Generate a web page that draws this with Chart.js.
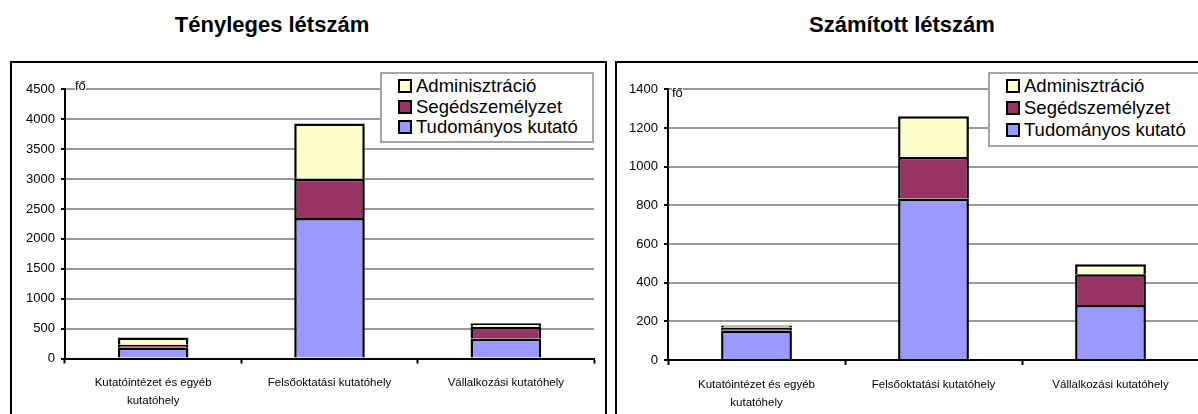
<!DOCTYPE html>
<html>
<head>
<meta charset="utf-8">
<script src="https://cdn.jsdelivr.net/npm/chart.js@4.4.1/dist/chart.umd.min.js"></script>
<style>
  html, body { margin: 0; padding: 0; background: #fff; }
  body {
    width: 1198px; height: 414px; overflow: hidden; position: relative;
    font-family: 'Liberation Sans', Arial, sans-serif; color: #000;
  }
  .title {
    position: absolute; top: 14px; font-weight: bold; font-size: 22px;
    line-height: 22px; white-space: nowrap; transform: translateX(-50%);
  }
  .frame { position: absolute; top: 61px; width: 593px; height: 400px; border: 2px solid #000; }
  .frame canvas { position: absolute; left: 0; top: 0; }
  .legend {
    position: absolute; top: 9px; background: #fff; border: 2px solid #a6a6a6;
    box-sizing: border-box;
  }
  .legend .row { position: absolute; white-space: nowrap; font-size: 18.5px; line-height: 20px; }
  .legend .box {
    position: absolute; width: 14px; height: 14px; box-sizing: border-box;
    border: 2px solid #000; top: 3px;
  }
</style>
</head>
<body>
  <div class="title" style="left:272px">Tényleges létszám</div>
  <div class="title" style="left:902px">Számított létszám</div>

  <div class="frame" style="left:10px">
    <canvas id="actualChart" width="593" height="351"></canvas>
    <div class="legend" id="actualLegend" style="left:368px; width:214px; height:71px"></div>
  </div>
  <div class="frame" style="left:615px">
    <canvas id="computedChart" width="593" height="351"></canvas>
    <div class="legend" id="computedLegend" style="left:371px; width:212px; height:75px"></div>
  </div>

<script>
const categories = [['Kutatóintézet és egyéb', 'kutatóhely'], 'Felsőoktatási kutatóhely', 'Vállalkozási kutatóhely'];
const seriesNames = ['Tudományos kutató', 'Segédszemélyzet', 'Adminisztráció'];
const seriesColors = ['#9999ff', '#993366', '#ffffcc'];
const unitText = 'fő';

// Tényleges létszám
const actualResearchers = [180, 2350, 335];
const actualSupport = [50, 655, 195];
const actualAdmin = [120, 925, 60];

// Számított létszám
const computedResearchers = [153, 835, 285];
const computedSupport = [15, 215, 158];
const computedAdmin = [10, 210, 52];

const fontFamily = "'Liberation Sans', Arial, sans-serif";

// small "fő" label at the top of the value axis
const unitLabelPlugin = {
  id: 'unitLabel',
  afterDraw(chart, args, opts) {
    const { ctx, chartArea } = chart;
    ctx.save();
    ctx.font = '13px ' + fontFamily;
    const w = ctx.measureText(opts.text).width;
    const x = chartArea.left + opts.dx;
    const y = chartArea.top + opts.dy;
    ctx.fillStyle = '#fff';
    ctx.fillRect(x, y - 10, w, 11);
    ctx.fillStyle = '#000';
    ctx.textBaseline = 'alphabetic';
    ctx.fillText(opts.text, x, y);
    ctx.restore();
  }
};

const makeChart = (canvasId, values, yMax, yStep, geom) => {
  return new Chart(document.getElementById(canvasId), {
    type: 'bar',
    data: {
      labels: categories,
      datasets: seriesNames.map((name, i) => ({
        label: name,
        data: values[i],
        backgroundColor: seriesColors[i],
        borderColor: '#000',
        borderWidth: 2.5,
        barPercentage: 0.4,
        categoryPercentage: 1,
      })),
    },
    options: {
      responsive: false,
      animation: false,
      layout: { padding: { top: geom.top, right: geom.right, left: 0, bottom: 0 } },
      plugins: {
        legend: { display: false },
        tooltip: { enabled: false },
        unitLabel: { text: unitText, dx: geom.unitDx, dy: geom.unitDy },
      },
      scales: {
        x: {
          stacked: true,
          grid: {
            drawOnChartArea: false, drawTicks: true, tickLength: 5,
            tickColor: '#000', tickWidth: 2, offset: true,
          },
          border: { color: '#000', width: 2, z: 1 },
          ticks: {
            color: '#000', padding: 10.5, maxRotation: 0, autoSkip: false,
            font: { family: fontFamily, size: 11.5, lineHeight: 18 / 11.5 },
          },
          afterFit(scale) { scale.height = geom.xHeight; },
        },
        y: {
          stacked: true,
          min: 0,
          max: yMax,
          grid: { color: '#999', lineWidth: 2, tickLength: 4, tickColor: '#000', tickWidth: 2 },
          border: { color: '#000', width: 2 },
          ticks: {
            stepSize: yStep, color: '#000', padding: 6,
            font: { family: fontFamily, size: 13 },
            callback: (value) => String(value),
          },
          afterFit(scale) { scale.width = geom.yWidth; },
        },
      },
    },
    plugins: [unitLabelPlugin],
  });
};

// HTML legend built from the chart's datasets (top item = last series)
const buildLegend = (el, chart, rowGap) => {
  chart.data.datasets.slice().reverse().forEach((ds, i) => {
    const row = document.createElement('div');
    row.className = 'row';
    row.style.left = '16px';
    row.style.top = (2 + i * rowGap) + 'px';
    row.innerHTML = `<span class="box" style="background:${ds.backgroundColor}"></span>` +
      `<span style="padding-left:18px">${ds.label}</span>`;
    el.appendChild(row);
  });
};

const actualChart = makeChart('actualChart',
  [actualResearchers, actualSupport, actualAdmin], 4500, 500,
  { top: 26.3, right: 11, xHeight: 55.5, yWidth: 53, unitDx: 10, unitDy: 1 });

const computedChart = makeChart('computedChart',
  [computedResearchers, computedSupport, computedAdmin], 1400, 200,
  { top: 26.3, right: 11, xHeight: 54, yWidth: 51, unitDx: 4, unitDy: 7.5 });

buildLegend(document.getElementById('actualLegend'), actualChart, 20.5);
buildLegend(document.getElementById('computedLegend'), computedChart, 22);
</script>
</body>
</html>
